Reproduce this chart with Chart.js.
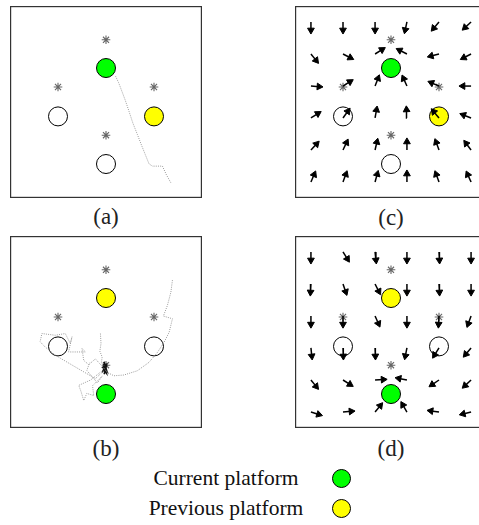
<!DOCTYPE html>
<html lang="en">
<head>
<meta charset="UTF-8">
<title>Platform search</title>
<script src="https://cdn.jsdelivr.net/npm/chart.js"></script>
<style>
  body { margin: 0; width: 479px; height: 525px; overflow: hidden; background: #fff; position: relative; }
  .panel { position: absolute; }
  .lbl { position: absolute; width: 60px; text-align: center; font-family: 'Liberation Serif', serif; font-size: 23px; line-height: 26px; color: #222; }
  .leg { position: absolute; width: 200px; text-align: center; font-family: 'Liberation Serif', serif; font-size: 21.5px; line-height: 24px; color: #111; }
  .dot { position: absolute; width: 17px; height: 17px; border: 1px solid #000; border-radius: 50%; }
</style>
</head>
<body>
  <canvas id="pa" class="panel" width="192" height="192" style="left:10px;top:6px"></canvas>
  <canvas id="pc" class="panel" width="192" height="192" style="left:295px;top:6px"></canvas>
  <canvas id="pb" class="panel" width="192" height="192" style="left:10px;top:236px"></canvas>
  <canvas id="pd" class="panel" width="192" height="192" style="left:295px;top:236px"></canvas>

  <div class="lbl" style="left:76px;top:204px">(a)</div>
  <div class="lbl" style="left:361px;top:205px">(c)</div>
  <div class="lbl" style="left:76px;top:436px">(b)</div>
  <div class="lbl" style="left:361px;top:436px">(d)</div>

  <div class="leg" style="left:126px;top:466px">Current platform</div>
  <div class="leg" style="left:126px;top:496px">Previous platform</div>
  <div class="dot" style="left:332px;top:469px;background:#00ff00"></div>
  <div class="dot" style="left:332px;top:499px;background:#ffff00"></div>

<script>
  // platforms: top, left, right, bottom
  const platX = [0.5, 0.25, 0.75, 0.5];
  const platY = [0.677, 0.425, 0.425, 0.177];
  const fillsAC = ['#00ff00', '#ffffff', '#ffff00', '#ffffff'];
  const fillsBD = ['#ffff00', '#ffffff', '#ffffff', '#00ff00'];

  // asterisk markers above each platform
  const starX = [0.5, 0.25, 0.75, 0.5];
  const starY = [0.824, 0.578, 0.578, 0.327];

  // quiver grid (c) and (d)
  const gridX = [0.083, 0.25, 0.417, 0.583, 0.75, 0.917];
  const gridY = [0.917, 0.75, 0.583, 0.417, 0.25, 0.083];

  // arrow directions, degrees clockwise from up, rows top to bottom
  const anglesC = [
    [180, 180, 180, 192, 220, 227],
    [141, 117, 58, 297, 256, 243],
    [94, 58, 21, 336, 293, 270],
    [58, 36, 10, 357, 320, 291],
    [43, 25, 13, 0, 340, 323],
    [23, 20, 15, 0, 340, 336]
  ];
  const anglesD = [
    [180, 148, 174, 180, 177, 180],
    [183, 161, 153, 180, 177, 180],
    [180, 180, 156, 180, 183, 200],
    [174, 178, 178, 191, 212, 220],
    [141, 122, 87, 281, 236, 227],
    [107, 85, 39, 330, 278, 257]
  ];

  // trajectory (a)
  const trajAX = [0.55, 0.566, 0.585, 0.60, 0.619, 0.64, 0.663, 0.685, 0.705, 0.724, 0.742, 0.794, 0.815, 0.838];
  const trajAY = [0.634, 0.60, 0.55, 0.51, 0.454, 0.39, 0.332, 0.275, 0.225, 0.178, 0.166, 0.166, 0.12, 0.079];

  // trajectory (b): long arc from the upper right
  const trajB1X = [0.846, 0.838, 0.820, 0.799, 0.846, 0.829, 0.803, 0.768, 0.724, 0.663, 0.593, 0.541, 0.506, 0.49];
  const trajB1Y = [0.770, 0.708, 0.639, 0.583, 0.569, 0.499, 0.447, 0.394, 0.342, 0.298, 0.276, 0.272, 0.290, 0.31];
  // loop around the left platform
  const trajB2X = [0.49, 0.445, 0.41, 0.384, 0.375, 0.393, 0.305, 0.323, 0.314, 0.288, 0.236, 0.166, 0.157, 0.183, 0.236, 0.34, 0.445, 0.49];
  const trajB2Y = [0.31, 0.36, 0.33, 0.352, 0.414, 0.396, 0.396, 0.475, 0.44, 0.492, 0.483, 0.492, 0.449, 0.422, 0.379, 0.318, 0.257, 0.30];
  // vertical strand
  const trajB3X = [0.471, 0.474, 0.468, 0.48, 0.476, 0.489];
  const trajB3Y = [0.492, 0.44, 0.40, 0.37, 0.34, 0.326];
  // strands below the tangle
  const trajB4X = [0.47, 0.42, 0.358, 0.37, 0.384, 0.40, 0.436, 0.43, 0.48, 0.455, 0.40, 0.415];
  const trajB4Y = [0.29, 0.25, 0.222, 0.19, 0.143, 0.18, 0.169, 0.22, 0.27, 0.235, 0.30, 0.34];
  // dense knot near the bottom asterisk
  const knotX = [0.48, 0.50, 0.485, 0.505, 0.49, 0.50, 0.482, 0.503, 0.49, 0.498, 0.486, 0.502, 0.484];
  const knotY = [0.29, 0.33, 0.32, 0.295, 0.345, 0.30, 0.315, 0.325, 0.28, 0.31, 0.335, 0.285, 0.305];

  const arrowLen = 0.063;
  const headR = 3.9;

  const pts = (xs, ys) => xs.map((x, i) => ({ x: x, y: ys[i] }));

  const boxBorder = {
    id: 'boxBorder',
    afterDraw(chart) {
      const { ctx, chartArea: a } = chart;
      ctx.save();
      ctx.strokeStyle = '#333';
      ctx.lineWidth = 1.2;
      ctx.strokeRect(a.left + 0.6, a.top + 0.6, a.right - a.left - 1.2, a.bottom - a.top - 1.2);
      ctx.restore();
    }
  };

  function trail(xs, ys, color, width, dash) {
    return {
      data: pts(xs, ys), showLine: true, borderColor: color, borderWidth: width,
      borderDash: dash, pointRadius: 0, tension: 0, order: 1
    };
  }

  function arrows(angles) {
    const sets = [];
    const heads = [];
    const rot = [];
    const hr = headR / 192;
    angles.forEach((row, r) => row.forEach((a, c) => {
      const dx = Math.sin(a * Math.PI / 180);
      const dy = Math.cos(a * Math.PI / 180);
      const x0 = gridX[c], y0 = gridY[r];
      const x1 = x0 + dx * (arrowLen - hr), y1 = y0 + dy * (arrowLen - hr);
      sets.push({
        data: [{ x: x0, y: y0 }, { x: x1, y: y1 }], showLine: true,
        borderColor: '#000', borderWidth: 1.5, pointRadius: 0, order: 0
      });
      heads.push({ x: x1, y: y1 });
      rot.push(a);
    }));
    sets.push({
      data: heads, showLine: false, pointStyle: 'triangle', pointRadius: headR,
      pointRotation: rot, pointBackgroundColor: '#000', pointBorderColor: '#000',
      pointBorderWidth: 1, order: 0
    });
    return sets;
  }

  function panel(id, fills, extra) {
    const datasets = [
      {
        data: pts(platX, platY), showLine: false, pointRadius: 9.5,
        pointBackgroundColor: fills, pointBorderColor: '#000', pointBorderWidth: 1, order: 3
      },
      {
        data: pts(starX, starY), showLine: false, pointStyle: 'star', pointRadius: 4.3,
        pointBorderColor: '#666', pointBorderWidth: 1.1, order: 2
      }
    ].concat(extra);
    return new Chart(document.getElementById(id), {
      type: 'scatter',
      data: { datasets: datasets },
      options: {
        responsive: false,
        animation: false,
        events: [],
        layout: { padding: 0, autoPadding: false },
        plugins: { legend: { display: false }, tooltip: { enabled: false } },
        scales: {
          x: { type: 'linear', min: 0, max: 1, display: false },
          y: { type: 'linear', min: 0, max: 1, display: false }
        }
      },
      plugins: [boxBorder]
    });
  }

  panel('pa', fillsAC, [trail(trajAX, trajAY, '#9a9a9a', 1, [1, 1.2])]);
  panel('pb', fillsBD, [
    trail(trajB1X, trajB1Y, '#9a9a9a', 1, [1, 1.2]),
    trail(trajB2X, trajB2Y, '#9a9a9a', 1, [1, 1.2]),
    trail(trajB3X, trajB3Y, '#9a9a9a', 1, [1, 1.2]),
    trail(trajB4X, trajB4Y, '#9a9a9a', 1, [1, 1.2]),
    trail(knotX, knotY, '#111', 1.4, [])
  ]);
  panel('pc', fillsAC, arrows(anglesC));
  panel('pd', fillsBD, arrows(anglesD));
</script>
</body>
</html>
